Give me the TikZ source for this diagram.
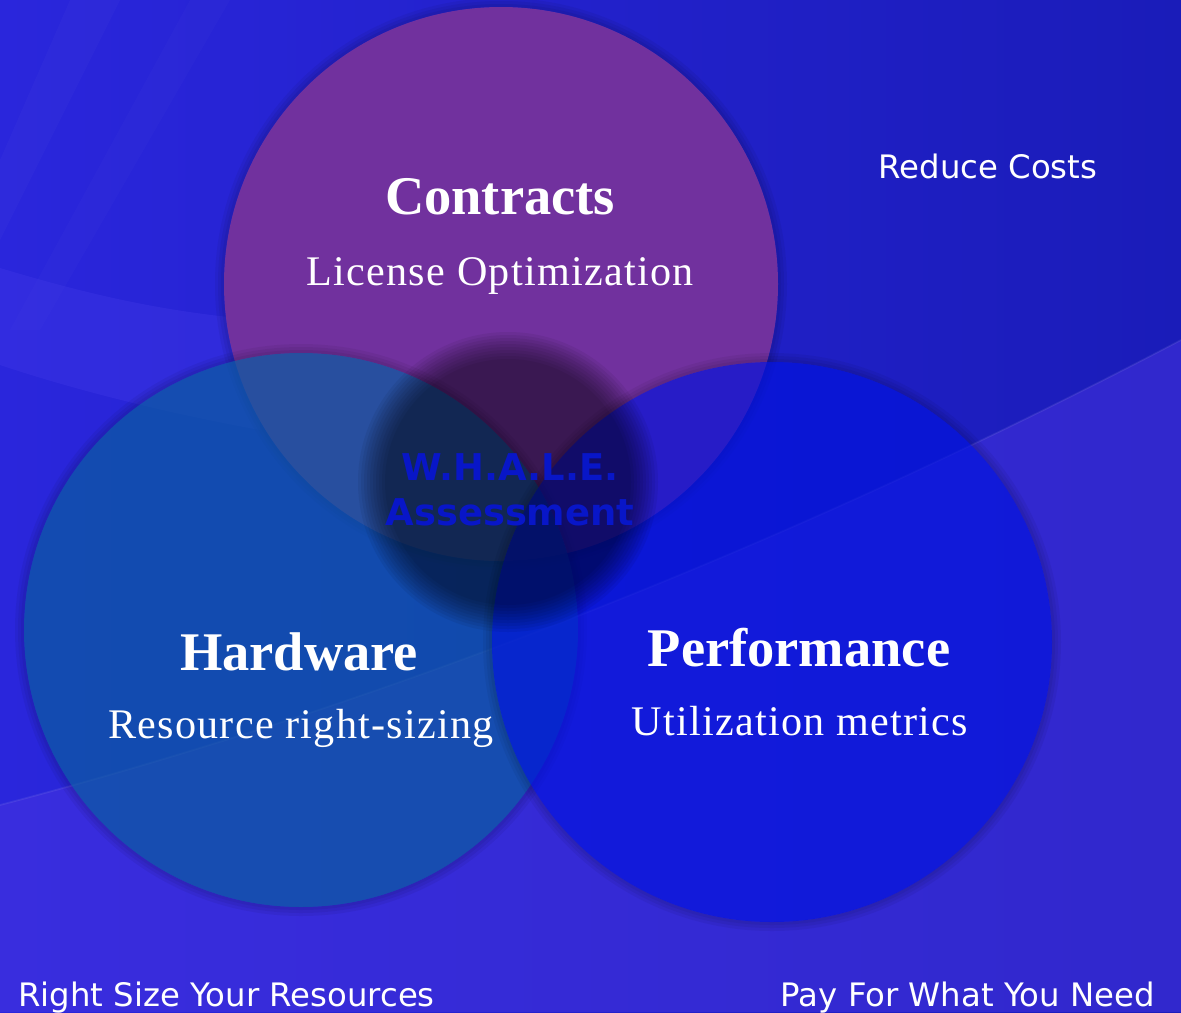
\documentclass[tikz,border=0pt]{standalone}
\usepackage{fontspec}
\setmainfont{Liberation Serif}
\newfontfamily\captionfont{DejaVu Sans}
\newfontfamily\subfont[LetterSpace=3]{Liberation Serif}
\usetikzlibrary{positioning}
\definecolor{bgLeft}{RGB}{42,38,220}
\definecolor{bgRight}{RGB}{26,28,185}
\definecolor{bgLow}{RGB}{72,52,225}
\definecolor{bgSwoosh}{RGB}{66,58,232}
\definecolor{contractsFill}{RGB}{113,49,158}
\definecolor{hardwareFill}{RGB}{10,92,160}
\definecolor{performanceFill}{RGB}{0,18,222}
\definecolor{whaleText}{RGB}{8,22,200}

\begin{document}
\begin{tikzpicture}[x=0.02cm, y=-0.02cm,
        every node/.style={inner sep=0pt, text=white},
        heading/.style={font=\bfseries\fontsize{31}{36}\selectfont, anchor=base},
        subheading/.style={font=\subfont\fontsize{24}{28}\selectfont, anchor=base},
        caption/.style={font=\captionfont\fontsize{18.4}{22}\selectfont},
        rim/.style={black, opacity=0.05, even odd rule}]
    \useasboundingbox (0,0) rectangle (1181,1012);
    % background
    \shade[left color=bgLeft, right color=bgRight] (0,0) rectangle (1181,1012);
    \fill[white, opacity=0.02] (70,0) -- (120,0) -- (0,240) -- (0,160) -- cycle;
    \fill[white, opacity=0.015] (190,0) -- (230,0) -- (40,330) -- (10,330) -- cycle;
    \fill[bgSwoosh, opacity=0.35] (0,268) .. controls (80,292) and (160,312) .. (260,320)
        -- (260,430) .. controls (150,410) and (60,385) .. (0,365) -- cycle;
    \fill[bgLow, opacity=0.5] (0,805) .. controls (400,700) and (800,540) .. (1181,340)
        -- (1181,1012) -- (0,1012) -- cycle;
    \draw[white, opacity=0.08, line width=1pt] (0,805) .. controls (400,700) and (800,540) .. (1181,340);

    \coordinate (contracts c) at (501,284);
    \coordinate (hardware c) at (301,630);
    \coordinate (performance c) at (772,642);
    \coordinate (whale c) at (508,482);

    % circles
    \foreach \d in {3,6,9}
        \fill[rim] (contracts c) circle (277+\d) (contracts c) circle (277);
    \fill[contractsFill] (contracts c) circle (277);
    \foreach \d in {3,6,9}
        \fill[rim] (hardware c) circle (277+\d) (hardware c) circle (277);
    \fill[hardwareFill, opacity=0.7] (hardware c) circle (277);
    \foreach \d in {3,6,9}
        \fill[rim] (performance c) circle (280+\d) (performance c) circle (280);
    \fill[performanceFill, opacity=0.65] (performance c) circle (280);
    \foreach \k in {0,...,9}
        \fill[black, opacity=0.06] (whale c) circle (150-\k*3);

    % labels
    \node[heading] (contracts) at (500,214) {Contracts};
    \node[subheading] (license) at (500,285) {License Optimization};
    \node[heading] (hardware) at (299,670) {Hardware};
    \node[subheading] (resource) at (301,738) {Resource right-sizing};
    \node[heading] (performance) at (799,666) {Performance};
    \node[subheading] (utilization) at (800,735) {Utilization metrics};
    \node[font=\captionfont\bfseries\fontsize{21}{25.6}\selectfont, text=whaleText, align=center]
        (whale) at (510,490) {W.H.A.L.E.\\Assessment};

    \node[caption, anchor=base] (costs) at (988,178) {Reduce Costs};
    \node[caption, anchor=base west] (rightsize) at (18,1006) {Right Size Your Resources};
    \node[caption, anchor=base east] (pay) at (1155,1006) {Pay For What You Need};
\end{tikzpicture}
\end{document}
